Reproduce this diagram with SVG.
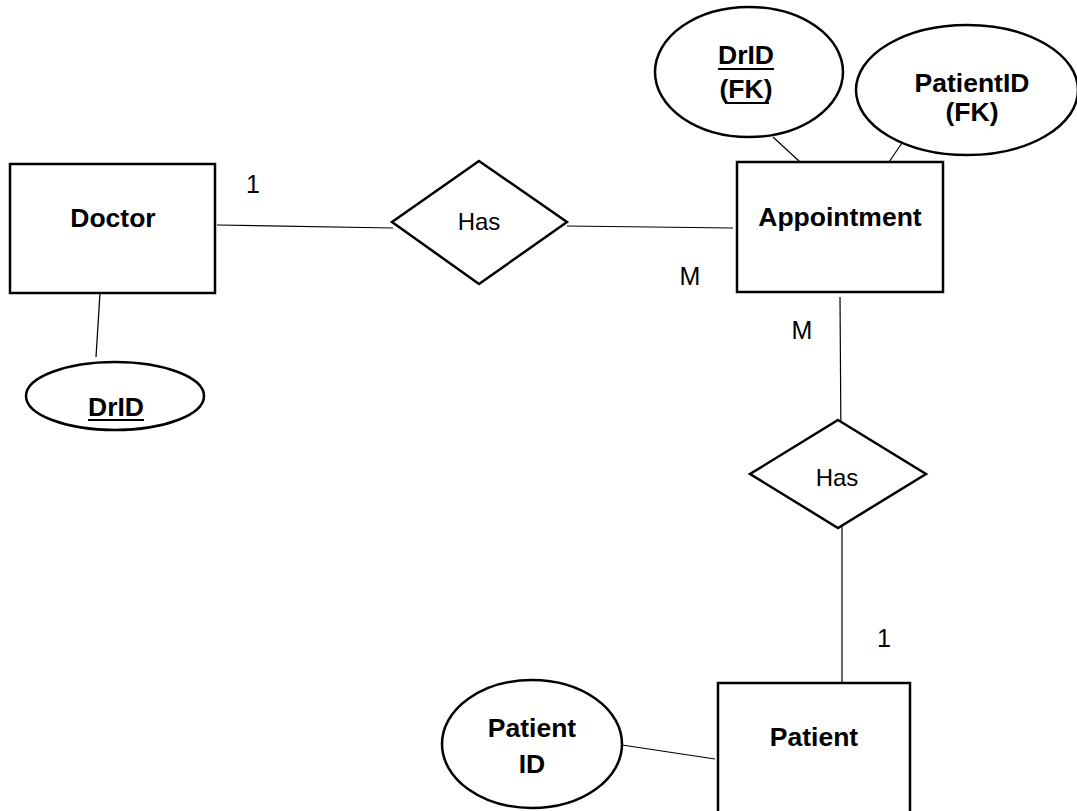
<svg xmlns="http://www.w3.org/2000/svg" width="1077" height="811" viewBox="0 0 1077 811">
<style>
.shape{fill:#fff;stroke:#000;stroke-width:2.5}
.conn{stroke:#000;stroke-width:1.2;fill:none}
.b{font-family:"Liberation Sans",Arial,sans-serif;font-weight:bold;font-size:26.5px;text-anchor:middle;fill:#000}
.r{font-family:"Liberation Sans",Arial,sans-serif;font-size:24px;text-anchor:middle;fill:#000}
.l{font-family:"Liberation Sans",Arial,sans-serif;font-size:25px;text-anchor:middle;fill:#000}
.u{stroke:#000;stroke-width:2}
</style>
<rect width="1077" height="811" fill="#fff"/>
<g id="connectors">
<line class="conn" x1="217" y1="225" x2="393" y2="228"/>
<line class="conn" x1="567" y1="226" x2="733" y2="228"/>
<line class="conn" x1="100" y1="293" x2="96" y2="357"/>
<line class="conn" x1="773" y1="137" x2="800" y2="162"/>
<line class="conn" x1="902" y1="143" x2="889" y2="162"/>
<line class="conn" x1="840" y1="297" x2="841" y2="445"/>
<line class="conn" x1="842" y1="527" x2="842" y2="683"/>
<line class="conn" x1="622" y1="745" x2="715" y2="759"/>
</g>
<g id="doctor">
<rect class="shape" x="10" y="164" width="205" height="129"/>
<text class="b" x="113" y="227">Doctor</text>
</g>
<g id="drid">
<ellipse class="shape" cx="115" cy="396" rx="89" ry="34"/>
<text class="b" x="116" y="416">DrID</text>
<line class="u" x1="88" y1="420" x2="144" y2="420"/>
</g>
<g id="has1">
<polygon class="shape" points="479,161 567,222 479,284 392,222"/>
<text class="r" x="479" y="230">Has</text>
</g>
<g id="appointment">
<rect class="shape" x="737" y="162" width="206" height="130"/>
<text class="b" x="840" y="226">Appointment</text>
</g>
<g id="drid-fk">
<ellipse class="shape" cx="749" cy="72" rx="94" ry="65"/>
<text class="b" x="746" y="64">DrID</text>
<line class="u" x1="718" y1="69" x2="774" y2="69"/>
<text class="b" x="746" y="98">(FK)</text>
<line class="u" x1="725" y1="103" x2="769" y2="103"/>
</g>
<g id="patientid-fk">
<ellipse class="shape" cx="967" cy="90" rx="111" ry="65"/>
<text class="b" x="972" y="92">PatientID</text>
<text class="b" x="972" y="121">(FK)</text>
</g>
<g id="has2">
<polygon class="shape" points="838,420 926,474 838,528 750,474"/>
<text class="r" x="837" y="486">Has</text>
</g>
<g id="patient">
<rect class="shape" x="718" y="683" width="192" height="140"/>
<text class="b" x="814" y="746">Patient</text>
</g>
<g id="patient-id">
<ellipse class="shape" cx="532" cy="744" rx="90" ry="64"/>
<text class="b" x="532" y="737">Patient</text>
<text class="b" x="532" y="773">ID</text>
</g>
<g id="labels">
<text class="l" x="253" y="193">1</text>
<text class="l" x="690" y="285">M</text>
<text class="l" x="802" y="339">M</text>
<text class="l" x="884" y="647">1</text>
</g>
</svg>
